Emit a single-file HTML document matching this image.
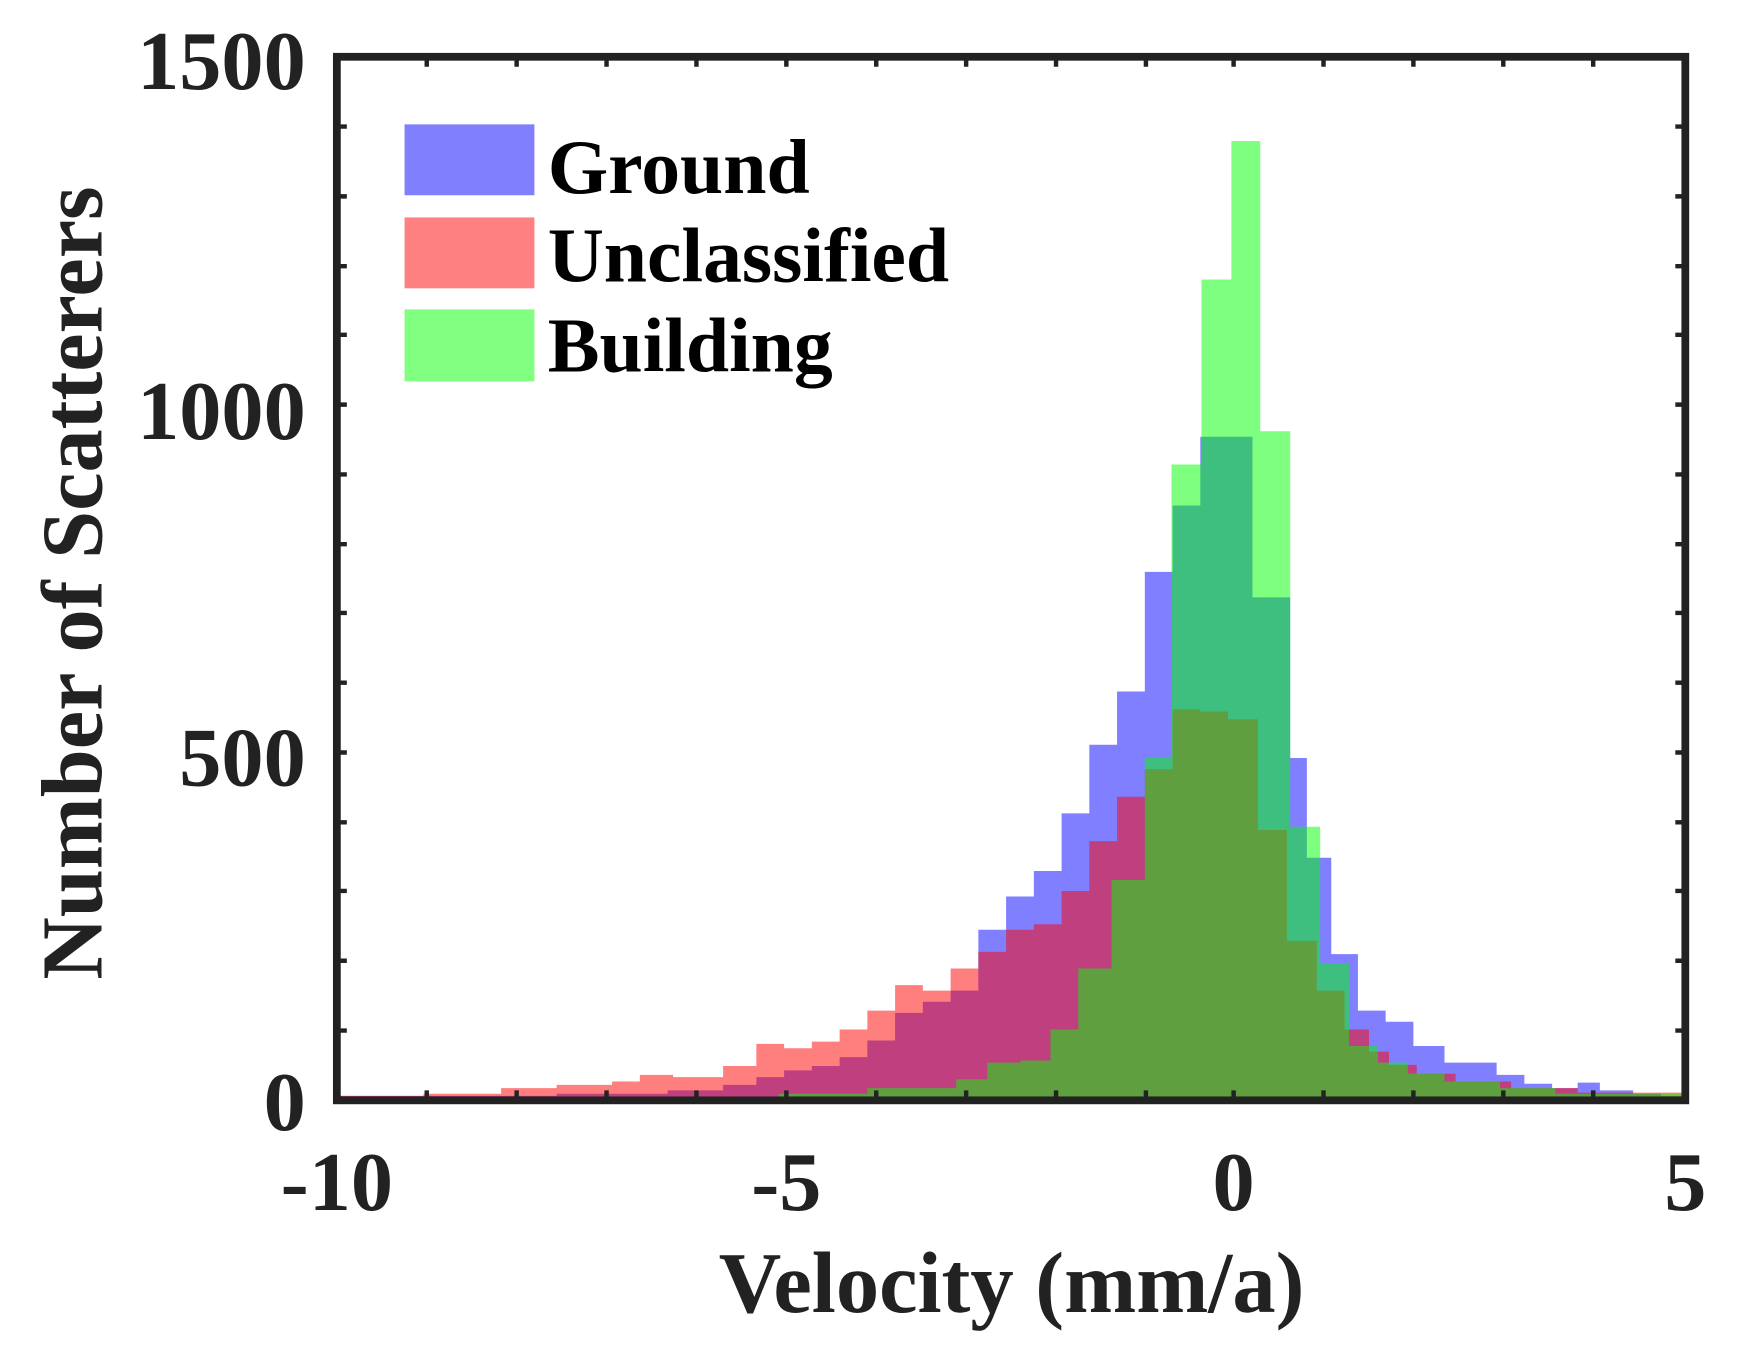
<!DOCTYPE html>
<html><head><style>
html,body{margin:0;padding:0;background:#fff;}
svg{display:block;}
text{font-family:"Liberation Serif",serif;font-weight:bold;fill:#222;}
</style></head><body>
<svg width="1745" height="1364" viewBox="0 0 1555 1215" preserveAspectRatio="none" xmlns="http://www.w3.org/2000/svg">
<defs><clipPath id="c"><rect x="302" y="47" width="1215" height="942"/></clipPath></defs>
<g transform="translate(1.5,4.2) scale(0.989,0.9868)">
<g clip-path="url(#c)">
<path fill="#0000ff" fill-opacity="0.5" d="M302,989 L302,985 L500,985 L500,983 L600,983 L600,980 L650,980 L650,975 L680,975 L680,968 L705,968 L705,962 L730,962 L730,958 L755,958 L755,950 L780,950 L780,935 L805,935 L805,910 L830,910 L830,900 L855,900 L855,890 L880,890 L880,835 L905,835 L905,805 L930,805 L930,782 L955,782 L955,730 L980,730 L980,668 L1005,668 L1005,620 L1030,620 L1030,512 L1055,512 L1055,452 L1080,452 L1080,390 L1127,390 L1127,535 L1161,535 L1161,680 L1176,680 L1176,770 L1198,770 L1198,857 L1222,857 L1222,908 L1247,908 L1247,918 L1272,918 L1272,940 L1300,940 L1300,955 L1347,955 L1347,966 L1372,966 L1372,974 L1397,974 L1397,978 L1420,978 L1420,973 L1440,973 L1440,980 L1470,980 L1470,983 L1495,983 L1495,985 L1517,985 L1517,989 Z"/>
<path fill="#ff0000" fill-opacity="0.5" d="M302,989 L302,985 L380,985 L380,983 L450,983 L450,978 L500,978 L500,975 L550,975 L550,972 L575,972 L575,966 L605,966 L605,968 L650,968 L650,958 L680,958 L680,938 L705,938 L705,942 L730,942 L730,936 L755,936 L755,925 L780,925 L780,908 L805,908 L805,885 L830,885 L830,890 L855,890 L855,870 L880,870 L880,855 L905,855 L905,835 L930,835 L930,830 L955,830 L955,800 L980,800 L980,755 L1005,755 L1005,715 L1030,715 L1030,690 L1055,690 L1055,636 L1080,636 L1080,638 L1105,638 L1105,645 L1132,645 L1132,745 L1158,745 L1158,845 L1185,845 L1185,890 L1210,890 L1210,925 L1232,925 L1232,945 L1250,945 L1250,957 L1275,957 L1275,965 L1310,965 L1310,972 L1360,972 L1360,978 L1420,978 L1420,982 L1517,982 L1517,989 Z"/>
<path fill="#00ff00" fill-opacity="0.5" d="M302,989 L302,986 L700,986 L700,983 L780,983 L780,978 L860,978 L860,970 L888,970 L888,955 L918,955 L918,953 L945,953 L945,925 L970,925 L970,870 L1000,870 L1000,790 L1030,790 L1030,680 L1054,680 L1054,415 L1081,415 L1081,248 L1108,248 L1108,123 L1134,123 L1134,385 L1161,385 L1161,742 L1188,742 L1188,865 L1214,865 L1214,940 L1240,940 L1240,955 L1267,955 L1267,965 L1300,965 L1300,972 L1350,972 L1350,978 L1400,978 L1400,983 L1517,983 L1517,989 Z"/>
</g>
<g stroke="#222" stroke-width="4">
<path d="M383,989v-9M464,989v-9M545,989v-9M626,989v-9M707,989v-9M788,989v-9M869,989v-9M950,989v-9M1031,989v-9M1110,989v-9M1191,989v-9M1272,989v-9M1353,989v-9M1434,989v-9"/>
<path d="M383,47v9M464,47v9M545,47v9M626,47v9M707,47v9M788,47v9M869,47v9M950,47v9M1031,47v9M1110,47v9M1191,47v9M1272,47v9M1353,47v9M1434,47v9"/>
<path d="M302,926h9M302,863h9M302,800h9M302,738h9M302,675h9M302,612h9M302,549h9M302,487h9M302,424h9M302,361h9M302,298h9M302,236h9M302,173h9M302,110h9"/>
<path d="M1517,926h-9M1517,863h-9M1517,800h-9M1517,738h-9M1517,675h-9M1517,612h-9M1517,549h-9M1517,487h-9M1517,424h-9M1517,361h-9M1517,298h-9M1517,236h-9M1517,173h-9M1517,110h-9"/>
</g>
<rect x="302" y="47" width="1215" height="942" fill="none" stroke="#222" stroke-width="7"/>
<rect x="363" y="108" width="117" height="64" fill="#8080ff"/>
<rect x="363" y="192" width="117" height="64" fill="#ff8080"/>
<rect x="363" y="275" width="117" height="65" fill="#80ff80"/>
<text x="492" y="170" font-size="70" style="fill:#000">Ground</text>
<text x="492" y="250" font-size="70" style="fill:#000">Unclassified</text>
<text x="492" y="331" font-size="70" style="fill:#000">Building</text>
<g font-size="76" text-anchor="end">
<text x="274" y="76">1500</text>
<text x="274" y="392">1000</text>
<text x="274" y="705">500</text>
<text x="274" y="1016">0</text>
</g>
<g font-size="76" text-anchor="middle">
<text x="302" y="1088">-10</text>
<text x="707" y="1088">-5</text>
<text x="1110" y="1088">0</text>
<text x="1517" y="1088">5</text>
</g>
<text x="910" y="1180" font-size="78" text-anchor="middle">Velocity (mm/a)</text>
<text transform="translate(90,522) rotate(-90)" font-size="78" text-anchor="middle">Number of Scatterers</text>
</g>
</svg>
</body></html>
